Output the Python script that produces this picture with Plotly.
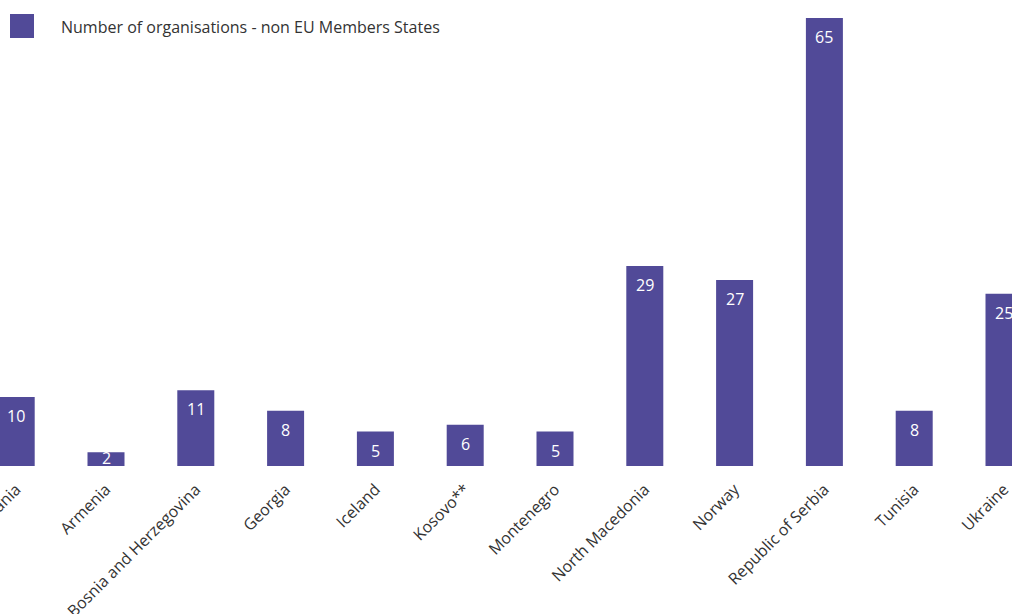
import plotly.graph_objects as go

# Organisations per non-EU country
countries = [
    "Albania", "Armenia", "Bosnia and Herzegovina", "Georgia", "Iceland",
    "Kosovo**", "Montenegro", "North Macedonia", "Norway",
    "Republic of Serbia", "Tunisia", "Ukraine",
]
organisations = [10, 2, 11, 8, 5, 6, 5, 29, 27, 65, 8, 25]
series_name = "Number of organisations - non EU Members States"

BAR_COLOR = "#514a98"
FONT = "Open Sans"

W, H = 1012, 614
PLOT_H = 466
Y_MAX = 67.6
PX_PER_UNIT = PLOT_H / Y_MAX

fig = go.Figure()
fig.add_trace(go.Bar(
    x=countries,
    y=organisations,
    name=series_name,
    marker=dict(color=BAR_COLOR, line=dict(width=0)),
    hoverinfo="x+y",
    showlegend=False,
))

# Value labels just inside the top of each bar; short bars get less padding
DIGIT_H = 13.5     # height of a digit glyph in px
GLYPH_OFFSET = 7   # distance from annotation box top to digit top
for c, v in zip(countries, organisations):
    bar_px = v * PX_PER_UNIT
    pad = min(13, bar_px - DIGIT_H)
    fig.add_annotation(
        x=c, y=v, xref="x", yref="y",
        text=str(v), showarrow=False,
        xanchor="center", yanchor="top",
        yshift=GLYPH_OFFSET - pad,
        font=dict(family=FONT, size=16, color="white"),
    )

# Legend swatch + caption drawn in paper space
fig.add_shape(type="rect", xref="paper", yref="paper",
              x0=10 / W, x1=34 / W, y0=1 - 38 / PLOT_H, y1=1 - 14 / PLOT_H,
              fillcolor=BAR_COLOR, line=dict(width=0))
fig.add_annotation(xref="paper", yref="paper", x=59 / W, y=1 - 27 / PLOT_H,
                   xanchor="left", yanchor="middle", showarrow=False,
                   text=series_name,
                   font=dict(family=FONT, size=16, color="#333333"))

step = 89.8
r0 = 11 - 1004 / step
fig.update_layout(
    width=W, height=H,
    margin=dict(l=0, r=0, t=0, b=H - PLOT_H, autoexpand=False),
    plot_bgcolor="white", paper_bgcolor="white",
    bargap=1 - 37 / step,
    xaxis=dict(
        type="category",
        range=[r0, r0 + W / step],
        automargin=False,
        tickangle=-45,
        tickfont=dict(family=FONT, size=16, color="#333333"),
        showgrid=False, zeroline=False, showline=False,
        ticks="", ticklabelstandoff=10,
    ),
    yaxis=dict(
        range=[0, Y_MAX],
        visible=False, showgrid=False, zeroline=False,
        automargin=False,
    ),
    font=dict(family=FONT),
)

fig.write_html("out.html")
